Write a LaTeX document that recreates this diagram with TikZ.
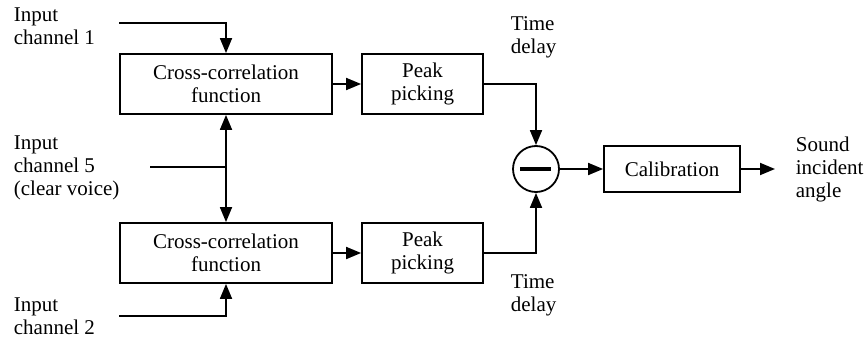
\documentclass[tikz,border=0pt]{standalone}
\usepackage{fontspec}
\setmainfont{Liberation Serif}
\usetikzlibrary{arrows.meta}
\begin{document}
\begin{tikzpicture}[x=1pt,y=-1pt,
  line width=1.8pt,
  font=\fontsize{21}{23}\selectfont,
  blk/.style={draw, inner sep=0pt, align=center},
  lbl/.style={inner sep=0pt, align=left, anchor=west},
  arr/.style={-{Triangle[length=15pt,width=12pt]}},
  ]
\useasboundingbox (0,0) rectangle (867,345);

% processing blocks
\node[blk, minimum width=212pt, minimum height=60pt] (cc1) at (226,84) {Cross-correlation\\function};
\node[blk, minimum width=212pt, minimum height=60pt] (cc2) at (226,253) {Cross-correlation\\function};
\node[blk, minimum width=121pt, minimum height=60pt] (pk1) at (422.5,84) {Peak\\picking};
\node[blk, minimum width=121pt, minimum height=60pt] (pk2) at (422.5,253) {Peak\\picking};
\node[draw, circle, minimum size=46pt, inner sep=0pt] (sub) at (536,169) {};
\draw[line width=4pt] ([xshift=-16pt]sub.center) -- ([xshift=15pt]sub.center);
\node[blk, minimum width=136pt, minimum height=46pt] (cal) at (672,169) {Calibration};

% labels
\node[lbl] (in1) at (13,26) {Input\\channel 1};
\node[lbl] (in5) at (13,168) {Input\\channel 5\\(clear voice)};
\node[lbl] (in2) at (13,316) {Input\\channel 2};
\node[lbl] (td1) at (510,37) {Time\\delay};
\node[lbl] (td2) at (510,295) {Time\\delay};
\node[lbl] (out) at (795,169) {Sound\\incident\\angle};

% input line ends
\coordinate (s1) at (119,23);
\coordinate (s2) at (119,316);
\coordinate (s5) at (150,167);
\coordinate (j5) at (cc1.south |- s5);

% connectors
\draw[arr] (s1) -| (cc1.north);
\draw[arr] (s2) -| (cc2.south);
\draw (s5) -- (j5);
\draw[arr] (j5) -- (cc1.south);
\draw[arr] (j5) -- (cc2.north);
\draw[arr] (cc1) -- (pk1);
\draw[arr] (cc2) -- (pk2);
\draw[arr] (pk1.east) -| (sub.north);
\draw[arr] (pk2.east) -| (sub.south);
\draw[arr] (sub) -- (cal);
\draw[arr, shorten >=20pt] (cal) -- (out.west);
\end{tikzpicture}
\end{document}
